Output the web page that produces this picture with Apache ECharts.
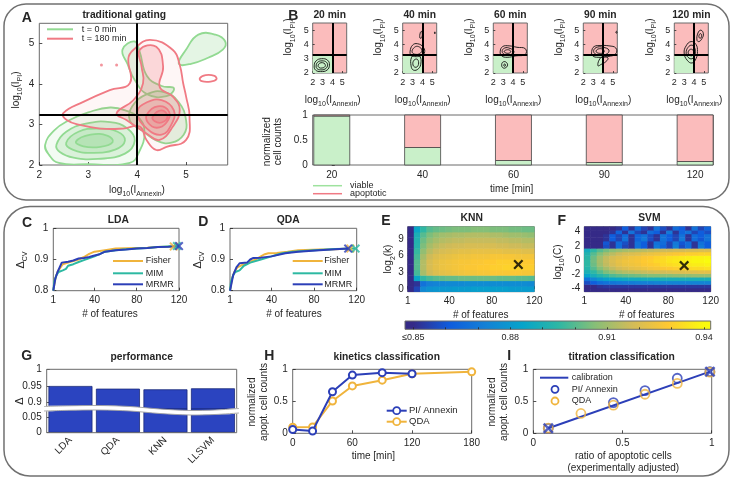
<!DOCTYPE html>
<html>
<head>
<meta charset="UTF-8">
<title>apoptosis classification</title>
<script src="https://cdn.jsdelivr.net/npm/echarts@6/dist/echarts.min.js"></script>
</head>
<body style="margin:0;background:#fff;">
<div id="chart" style="width:733px;height:487px;"></div>
<script>
// ---------- data ----------
var gateX = 4, gateY = 3.25;

// A: density contours, points are [log10 Annexin, log10 PI]
var greenContours = [
    [[2.12,2.5],[2.3,2.85],[2.6,3.1],[3.0,3.3],[3.45,3.42],[3.8,3.33],[4.05,3.15],[4.15,2.8],[4.05,2.35],[3.85,2.05],[3.0,2.02],[2.4,2.05],[2.2,2.25]],
    [[2.35,2.5],[2.55,2.82],[2.95,3.02],[3.45,3.06],[3.8,2.9],[3.95,2.6],[3.75,2.28],[3.2,2.15],[2.7,2.18],[2.42,2.32]],
    [[2.55,2.55],[2.8,2.82],[3.2,2.9],[3.6,2.82],[3.75,2.6],[3.55,2.38],[3.05,2.3],[2.68,2.38]],
    [[2.75,2.58],[3.05,2.75],[3.4,2.72],[3.5,2.57],[3.25,2.45],[2.9,2.46]],
    [[3.9,3.45],[4.2,3.75],[4.55,3.8],[4.85,3.55],[5.0,3.1],[4.95,2.75],[4.7,2.55],[4.4,2.6],[4.1,2.85],[3.85,3.1]],
    [[3.7,4.85],[3.95,5.05],[4.05,4.8],[4.2,4.2],[4.5,3.95],[4.75,3.9],[4.6,3.7],[4.2,3.75],[3.95,4.1],[3.8,4.5]],
    [[4.85,4.5],[5.0,4.85],[5.25,5.22],[5.6,5.22],[5.8,5.05],[5.75,4.85],[5.45,4.65],[5.1,4.5]]
];
var redContours = [
    [[2.49,3.28],[2.56,3.11],[2.83,2.99],[3.24,2.9],[3.71,2.9],[4.05,2.95],[4.19,2.62],[4.39,2.37],[4.6,2.45],[5.0,2.62],[5.07,3.19],[5.0,3.69],[4.94,4.02],[4.87,4.47],[4.73,4.84],[4.26,5.09],[3.92,4.84],[3.82,4.63],[3.85,4.02],[3.44,3.85],[2.9,3.56]],
    [[4.05,4.84],[4.39,4.92],[4.53,4.43],[4.46,3.93],[4.73,3.69],[4.87,3.36],[4.73,2.95],[4.46,2.62],[4.19,2.78],[3.78,3.11],[3.58,3.28],[3.92,3.6],[4.12,4.02],[4.09,4.43]],
    [[4.0,3.3],[4.2,3.55],[4.5,3.6],[4.75,3.35],[4.7,3.0],[4.5,2.75],[4.2,2.9]],
    [[4.2,3.25],[4.42,3.45],[4.65,3.32],[4.6,3.05],[4.4,2.92],[4.22,3.05]],
    [[4.32,3.2],[4.5,3.35],[4.62,3.2],[4.5,3.05],[4.36,3.08]]
];
var redRing = [[5.28,4.14],[5.4,4.22],[5.58,4.2],[5.62,4.12],[5.5,4.06],[5.32,4.07]];
var redDots = [[3.27,4.47],[3.58,4.47]];

// B: contours per time point
var bTimes = ['20 min', '40 min', '60 min', '90 min', '120 min'];
var bContours = [
    [
        [[2.15,2.5],[2.35,2.85],[2.9,3.0],[3.5,2.9],[3.7,2.55],[3.45,2.2],[2.8,2.1],[2.3,2.2]],
        [[2.35,2.5],[2.5,2.75],[2.95,2.85],[3.4,2.75],[3.5,2.5],[3.25,2.28],[2.8,2.22],[2.45,2.3]],
        [[2.55,2.52],[2.7,2.68],[3.0,2.72],[3.25,2.62],[3.25,2.45],[2.95,2.35],[2.65,2.38]]
    ],
    [
        [[2.75,3.5],[3.0,3.95],[3.5,4.05],[4.1,3.8],[4.2,3.4],[3.8,3.2],[3.2,3.15],[2.85,3.25]],
        [[2.95,3.5],[3.2,3.8],[3.6,3.85],[3.95,3.6],[3.7,3.35],[3.2,3.32]],
        [[2.85,2.5],[2.9,3.1],[3.3,3.3],[3.75,3.15],[3.85,2.7],[3.6,2.3],[3.1,2.2]],
        [[3.05,2.55],[3.15,2.9],[3.5,2.95],[3.6,2.6],[3.35,2.4]],
        [[3.75,4.45],[3.8,4.85],[3.95,4.9],[3.95,4.5]],
        [[5.22,4.8],[5.26,4.88],[5.3,4.8],[5.26,4.74]]
    ],
    [
        [[2.7,3.5],[2.95,3.85],[3.6,3.9],[4.4,3.8],[5.25,3.7],[5.25,3.3],[4.3,3.2],[3.4,3.1],[2.85,3.2]],
        [[2.9,3.5],[3.15,3.75],[3.7,3.72],[4.1,3.5],[3.8,3.3],[3.2,3.28]],
        [[3.1,3.5],[3.35,3.62],[3.7,3.58],[3.75,3.45],[3.4,3.38]],
        [[2.85,2.55],[2.95,2.75],[3.25,2.78],[3.45,2.55],[3.2,2.35],[2.95,2.38]],
        [[3.05,2.55],[3.15,2.63],[3.25,2.55],[3.15,2.47]]
    ],
    [
        [[2.85,3.5],[3.1,3.85],[3.8,3.92],[4.6,3.9],[5.3,3.75],[5.3,3.35],[4.5,3.15],[3.5,3.1],[2.95,3.2]],
        [[3.05,3.5],[3.3,3.78],[4.0,3.8],[4.6,3.6],[4.3,3.3],[3.4,3.28]],
        [[3.3,3.5],[3.5,3.68],[4.0,3.65],[4.1,3.45],[3.6,3.38]],
        [[3.5,2.5],[3.6,2.9],[4.0,3.15],[4.5,3.05],[4.3,2.8],[3.8,2.6]],
        [[5.3,4.85],[5.36,4.92],[5.42,4.85],[5.36,4.78]]
    ],
    [
        [[3.0,3.4],[3.2,3.9],[3.7,4.2],[4.2,4.0],[4.35,3.5],[4.2,3.0],[3.8,2.7],[3.3,2.9]],
        [[3.2,3.4],[3.4,3.8],[3.8,3.95],[4.1,3.7],[4.1,3.3],[3.8,3.0],[3.4,3.1]],
        [[3.4,3.4],[3.6,3.65],[3.9,3.6],[3.95,3.35],[3.7,3.2]],
        [[4.3,4.3],[4.4,4.8],[4.7,5.0],[4.95,4.75],[4.8,4.4],[4.5,4.2]],
        [[4.5,4.5],[4.6,4.75],[4.75,4.7],[4.7,4.45]]
    ]
];
var countTimes = ['20', '40', '60', '90', '120'];
var viable = [0.98, 0.35, 0.09, 0.05, 0.07];
var apoptotic = [0.02, 0.65, 0.91, 0.95, 0.93];

// C, D: cross-validated accuracy vs number of features
var ldaFisherX = [1,3,5,8,10,15,20,25,30,35,40,50,60,70,80,90,100,115];
var ldaFisherY = [0.80,0.84,0.86,0.875,0.885,0.89,0.895,0.9,0.908,0.918,0.925,0.93,0.935,0.936,0.937,0.938,0.94,0.942];
var ldaMimX = [1,2,4,6,10,13,15,20,25,30,40,50,60,70,80,90,100,118];
var ldaMimY = [0.80,0.83,0.85,0.86,0.865,0.87,0.88,0.885,0.892,0.898,0.91,0.925,0.93,0.933,0.935,0.937,0.94,0.943];
var ldaMrmrX = [1,3,5,7,9,15,20,25,30,35,40,45,50,60,70,80,90,100,110,120];
var ldaMrmrY = [0.80,0.84,0.86,0.875,0.89,0.893,0.897,0.903,0.905,0.908,0.913,0.917,0.925,0.93,0.932,0.935,0.937,0.94,0.941,0.943];
var qdaFisherX = [1,3,5,8,12,15,20,25,30,33,37,45,55,65,85,100,114];
var qdaFisherY = [0.80,0.84,0.86,0.875,0.882,0.885,0.893,0.9,0.91,0.916,0.92,0.921,0.925,0.93,0.932,0.933,0.935];
var qdaMimX = [1,2,4,6,10,14,20,30,40,45,50,60,80,100,119];
var qdaMimY = [0.80,0.83,0.85,0.86,0.865,0.88,0.89,0.9,0.91,0.915,0.92,0.925,0.93,0.934,0.935];
var qdaMrmrX = [1,4,7,10,17,20,23,30,40,53,65,85,100,112];
var qdaMrmrY = [0.80,0.85,0.875,0.888,0.89,0.9,0.905,0.906,0.91,0.92,0.925,0.93,0.933,0.935];
var selectors = ['Fisher', 'MIM', 'MRMR'];

// E: KNN grid, rows log2(k) = 0..11 (bottom to top), 20 feature columns
var knnRows = [
    [0.85,0.856,0.875,0.878,0.879,0.88,0.88,0.881,0.881,0.881,0.882,0.882,0.882,0.882,0.882,0.882,0.881,0.881,0.881,0.881],
    [0.85,0.852,0.868,0.872,0.873,0.874,0.875,0.875,0.875,0.876,0.876,0.876,0.876,0.876,0.876,0.876,0.876,0.876,0.876,0.875],
    [0.85,0.885,0.895,0.898,0.9,0.901,0.902,0.902,0.903,0.903,0.903,0.903,0.903,0.903,0.902,0.902,0.902,0.901,0.901,0.9],
    [0.85,0.898,0.911,0.917,0.92,0.922,0.923,0.924,0.925,0.926,0.926,0.927,0.927,0.928,0.928,0.928,0.928,0.928,0.927,0.927],
    [0.85,0.9,0.913,0.919,0.922,0.924,0.925,0.926,0.927,0.928,0.928,0.929,0.929,0.93,0.93,0.931,0.931,0.931,0.93,0.93],
    [0.85,0.9,0.913,0.919,0.922,0.924,0.925,0.926,0.927,0.927,0.928,0.928,0.929,0.929,0.93,0.93,0.93,0.93,0.929,0.929],
    [0.85,0.898,0.911,0.917,0.92,0.922,0.923,0.924,0.925,0.925,0.926,0.926,0.926,0.927,0.927,0.927,0.927,0.926,0.926,0.926],
    [0.85,0.896,0.908,0.914,0.917,0.919,0.92,0.921,0.922,0.922,0.923,0.923,0.923,0.923,0.923,0.922,0.922,0.922,0.921,0.921],
    [0.85,0.893,0.905,0.911,0.914,0.916,0.917,0.918,0.918,0.919,0.919,0.919,0.919,0.919,0.918,0.918,0.917,0.917,0.916,0.916],
    [0.85,0.892,0.903,0.908,0.911,0.913,0.914,0.915,0.915,0.916,0.916,0.916,0.916,0.916,0.915,0.915,0.914,0.914,0.913,0.913],
    [0.85,0.89,0.9,0.905,0.908,0.91,0.911,0.912,0.912,0.913,0.913,0.913,0.913,0.912,0.912,0.911,0.91,0.91,0.909,0.908],
    [0.85,0.885,0.895,0.9,0.902,0.903,0.904,0.905,0.905,0.905,0.906,0.906,0.906,0.905,0.905,0.905,0.904,0.904,0.903,0.903]
];
var knnBest = [[105, 4.4]];

// F: SVM grid, rows log10(C) from -4.5 upwards in 0.5 steps (bottom to top)
var svmRows = [
    [0.85,0.85,0.85,0.85,0.85,0.85,0.85,0.85,0.85,0.85,0.85,0.85,0.85,0.85,0.85,0.85,0.85,0.85,0.85,0.85],
    [0.85,0.85,0.852,0.853,0.853,0.853,0.853,0.853,0.853,0.853,0.853,0.853,0.853,0.853,0.853,0.853,0.853,0.853,0.853,0.853],
    [0.858,0.862,0.866,0.868,0.869,0.87,0.871,0.871,0.872,0.872,0.872,0.873,0.873,0.873,0.873,0.873,0.873,0.873,0.873,0.873],
    [0.868,0.874,0.879,0.882,0.884,0.885,0.886,0.887,0.887,0.888,0.888,0.888,0.889,0.889,0.889,0.889,0.889,0.889,0.889,0.889],
    [0.884,0.889,0.893,0.896,0.899,0.901,0.902,0.903,0.904,0.905,0.906,0.906,0.907,0.907,0.908,0.908,0.908,0.909,0.909,0.909],
    [0.89,0.895,0.9,0.905,0.908,0.911,0.913,0.914,0.915,0.916,0.917,0.918,0.918,0.919,0.92,0.92,0.921,0.921,0.922,0.922],
    [0.893,0.9,0.906,0.911,0.915,0.918,0.92,0.922,0.923,0.924,0.926,0.927,0.928,0.929,0.93,0.931,0.932,0.933,0.933,0.934],
    [0.895,0.903,0.91,0.915,0.919,0.922,0.924,0.925,0.926,0.928,0.929,0.93,0.932,0.933,0.934,0.935,0.936,0.937,0.937,0.938],
    [0.895,0.904,0.911,0.916,0.92,0.923,0.925,0.926,0.927,0.929,0.93,0.932,0.933,0.935,0.936,0.937,0.938,0.939,0.939,0.94],
    [0.894,0.903,0.91,0.915,0.919,0.921,0.923,0.925,0.926,0.928,0.929,0.931,0.932,0.934,0.935,0.936,0.937,0.938,0.938,0.939],
    [0.892,0.9,0.906,0.911,0.914,0.917,0.919,0.92,0.921,0.923,0.924,0.925,0.926,0.927,0.928,0.929,0.93,0.93,0.931,0.931],
    [0.888,0.895,0.9,0.904,0.907,0.909,0.911,0.912,0.913,0.914,0.915,0.916,0.917,0.917,0.918,0.918,0.919,0.919,0.92,0.92],
    [0.85,0.85,0.85,0.858,0.852,0.866,0.856,0.852,0.868,0.862,0.852,0.87,0.864,0.856,0.872,0.858,0.866,0.852,0.87,0.862],
    [0.85,0.85,0.85,0.86,0.852,0.866,0.858,0.852,0.868,0.862,0.852,0.868,0.866,0.856,0.87,0.86,0.866,0.852,0.868,0.862],
    [0.85,0.85,0.85,0.852,0.862,0.856,0.868,0.852,0.864,0.87,0.858,0.852,0.868,0.862,0.856,0.87,0.852,0.866,0.86,0.868],
    [0.85,0.85,0.85,0.852,0.862,0.856,0.866,0.852,0.864,0.868,0.858,0.852,0.868,0.862,0.856,0.868,0.852,0.866,0.862,0.868],
    [0.85,0.85,0.85,0.85,0.852,0.864,0.852,0.868,0.856,0.852,0.866,0.862,0.852,0.87,0.852,0.864,0.868,0.856,0.862,0.858],
    [0.85,0.85,0.85,0.85,0.85,0.852,0.862,0.852,0.866,0.856,0.852,0.868,0.858,0.852,0.866,0.862,0.852,0.868,0.856,0.864]
];
var svmBest = [[95, -0.8]];
var cbarTicks = [0.85, 0.86, 0.87, 0.88, 0.89, 0.9, 0.91, 0.92, 0.93, 0.94];
var cbarLabels = [0.85, 0.88, 0.91, 0.94];

// G: overall performance
var classifiers = ['LDA', 'QDA', 'KNN', 'LLSVM'];
var performance = [0.95, 0.942, 0.94, 0.943];

// H: kinetics
var kinTimes = [0, 20, 40, 60, 90, 120, 180];
var kinPiAnnexin = [0.06, 0.035, 0.65, 0.91, 0.947, 0.93];
var kinQda = [0.094, 0.1, 0.505, 0.74, 0.83, 0.93, 0.96];

// I: titration
var calibX = [0.084, 0.99];
var calibY = [0.078, 0.963];
var titrPiX = [0.084, 0.449, 0.626, 0.807, 0.99];
var titrPiY = [0.078, 0.48, 0.666, 0.86, 0.963];
var titrQdaX = [0.084, 0.267, 0.449, 0.626, 0.807, 0.99];
var titrQdaY = [0.08, 0.31, 0.44, 0.61, 0.78, 0.955];

// ---------- styling ----------
var FONT = '"Liberation Sans", Arial, sans-serif';
var INK = '#262626';
var FRAME = '#6a6a6a';
var BLUE = '#2c3fb8', ORANGE = '#f0b43c', TEAL = '#2db9a2';
var PINK = '#fbbcbc', LGREEN = '#c9f0c9';
var parula = ['#352a87', '#0f5cdd', '#1481d6', '#06a4ca', '#2eb7a4', '#87bf77', '#d1bb59', '#fec832', '#f9fb0e'];
var XSYM = 'path://M0,1.6 L1.6,0 L5,3.4 L8.4,0 L10,1.6 L6.6,5 L10,8.4 L8.4,10 L5,6.6 L1.6,10 L0,8.4 L3.4,5 Z';
var SUB = {s: {fontSize: 7, fontFamily: FONT, fill: INK, verticalAlign: 'bottom', lineHeight: 8}};

function zip(xs, ys) {
    return ys.map(function (y, i) { return [xs[i], y]; });
}

var cbMin = 0.8474, cbMax = 0.9421;
var cbStops = [{offset: 0, color: parula[0]}];
parula.forEach(function (c, i) {
    cbStops.push({offset: (0.85 + i / 8 * 0.09 - cbMin) / (cbMax - cbMin), color: c});
});
cbStops.push({offset: 1, color: parula[8]});

var gridBox = [
    [39.3, 23.3, 188.4, 141.7],
    [312.7, 23, 34, 50], [402.7, 23, 34, 50], [493.3, 23, 34, 50], [583.3, 23, 34, 50], [674.3, 23, 34, 50],
    [312.7, 115, 400.6, 50],
    [53.3, 228.3, 125.7, 62.4],
    [230, 228.3, 126.7, 62.4],
    [407.7, 226.7, 126.6, 65],
    [584.3, 226.7, 126.4, 65],
    [405, 321, 305.7, 8.3],
    [46.7, 369.3, 190, 39.7],
    [46.7, 409, 190, 23.7],
    [292.7, 369.3, 179, 64],
    [533.3, 369.3, 178.4, 64]
];
var grids = gridBox.map(function (b, i) {
    var g = {left: b[0], top: b[1], width: b[2], height: b[3], show: true,
        borderColor: FRAME, borderWidth: 1, backgroundColor: 'transparent'};
    if (i >= 1 && i <= 5) g.backgroundColor = PINK;
    if (i === 11) g.backgroundColor = new echarts.graphic.LinearGradient(0, 0, 1, 0, cbStops);
    if (i === 12 || i === 13) g.show = false;
    return g;
});

function vAxis(grid, min, max, values, o) {
    o = o || {};
    return {
        type: 'value', gridIndex: grid, min: min, max: max,
        splitLine: {show: false}, axisLine: {show: false},
        axisTick: {show: true, inside: true, length: o.tick || 3, customValues: o.ticks || values,
            lineStyle: {color: INK, width: 0.8}},
        axisLabel: {customValues: values, fontSize: o.size || 10, color: INK,
            fontFamily: FONT, margin: o.margin || 5, formatter: o.formatter}
    };
}
function hidden(type, grid, o) {
    var ax = {type: type, gridIndex: grid, show: false};
    for (var k in o) ax[k] = o[k];
    return ax;
}

var xAxes = [], yAxes = [];
xAxes[0] = vAxis(0, 2, 5.85, [2, 3, 4, 5]);
yAxes[0] = vAxis(0, 2, 5.5, [2, 3, 4, 5]);
for (var b = 1; b <= 5; b++) {
    xAxes[b] = vAxis(b, 2, 5.45, [2, 3, 4, 5], {size: 9, margin: 5, tick: 2});
    yAxes[b] = vAxis(b, 2, 5.5, [2, 3, 4, 5], {size: 9, margin: 4, tick: 2});
}
xAxes[6] = vAxis(6, -0.21, 4.2, [0, 1, 2, 3, 4], {formatter: function (v) { return countTimes[Math.round(v)]; }});
yAxes[6] = vAxis(6, 0, 1, [0, 0.5, 1]);
xAxes[7] = vAxis(7, 1, 120, [1, 40, 80, 120]);
yAxes[7] = vAxis(7, 0.8, 1, [0.8, 0.9, 1]);
xAxes[8] = vAxis(8, 1, 120, [1, 40, 80, 120]);
yAxes[8] = vAxis(8, 0.8, 1, [0.8, 0.9, 1]);
xAxes[9] = vAxis(9, 1, 120, [1, 40, 80, 120]);
yAxes[9] = vAxis(9, -0.5, 11.2, [0, 3, 6, 9], {margin: 4});
xAxes[10] = vAxis(10, 1, 120, [1, 40, 80, 120]);
yAxes[10] = vAxis(10, -4.5, 4.7, [-4, -2, 0, 2, 4], {margin: 4});
xAxes[11] = vAxis(11, cbMin, cbMax, cbarLabels, {ticks: cbarTicks, size: 9, margin: 4, tick: 2,
    formatter: function (v) { return Math.abs(v - 0.85) < 1e-6 ? '\u22640.85' : v.toFixed(2); }});
yAxes[11] = hidden('value', 11, {min: 0, max: 1});
xAxes[12] = hidden('category', 12, {data: classifiers});
yAxes[12] = vAxis(12, 0.881, 1, [0.9, 0.95, 1]);
xAxes[13] = {type: 'category', gridIndex: 13, data: classifiers,
    axisLine: {show: false}, axisTick: {show: false},
    axisLabel: {rotate: 45, fontSize: 10, color: INK, fontFamily: FONT, margin: 6}};
yAxes[13] = vAxis(13, 0, 0.077, [0, 0.05]);
xAxes[14] = vAxis(14, 0, 180, [0, 60, 120, 180]);
yAxes[14] = vAxis(14, 0, 1, [0, 0.5, 1]);
xAxes[15] = vAxis(15, 0, 1, [0, 0.5, 1]);
yAxes[15] = vAxis(15, 0, 1, [0, 0.5, 1]);
// category axes that carry the two heatmaps
xAxes[16] = hidden('category', 9, {position: 'top', data: knnRows[0].map(function (v, i) { return String(i); })});
yAxes[16] = hidden('category', 9, {position: 'right', data: knnRows.map(function (r, i) { return String(i); })});
xAxes[17] = hidden('category', 10, {position: 'top', data: svmRows[0].map(function (v, i) { return String(i); })});
yAxes[17] = hidden('category', 10, {position: 'right', data: svmRows.map(function (r, i) { return String(i); })});

// ---------- series ----------
var series = [];

function contour(grid, pts, fill, stroke, lw, z) {
    series.push({
        type: 'custom', xAxisIndex: grid, yAxisIndex: grid, z: z || 2, silent: true, clip: true,
        data: pts,
        renderItem: function (params, api) {
            if (params.dataIndex !== 0) return null;
            return {
                type: 'polygon',
                shape: {points: pts.map(function (p) { return api.coord(p); }), smooth: 0.45},
                style: {fill: fill, stroke: stroke, lineWidth: lw}
            };
        }
    });
}
function gates(grid, quadrant) {
    var s = {
        type: 'line', xAxisIndex: grid, yAxisIndex: grid, data: [], silent: true,
        markLine: {silent: true, symbol: ['none', 'none'], label: {show: false},
            lineStyle: {color: '#000', width: 2, type: 'solid'},
            data: [{xAxis: gateX}, {yAxis: gateY}]}
    };
    if (quadrant) {
        s.markArea = {silent: true, itemStyle: {color: LGREEN, opacity: 1},
            data: [[{xAxis: 2, yAxis: 2}, {xAxis: gateX, yAxis: gateY}]]};
    }
    series.push(s);
}

// A
greenContours.forEach(function (p, i) {
    contour(0, p, i === 0 ? 'rgba(140,215,140,0.10)' : 'rgba(120,205,120,0.2)', '#92da92', 1.8, 2);
});
redContours.forEach(function (p, i) {
    contour(0, p, i === 0 ? 'rgba(240,100,110,0.06)' : 'rgba(238,95,105,0.2)', '#f07a84', 1.8, 3);
});
contour(0, redRing, 'none', '#f07a84', 1.8, 3);
series.push({type: 'scatter', xAxisIndex: 0, yAxisIndex: 0, data: redDots, symbolSize: 3,
    itemStyle: {color: '#f07a84'}, silent: true});
gates(0, false);

// B small panels
bContours.forEach(function (set, i) {
    gates(i + 1, true);
    set.forEach(function (p) { contour(i + 1, p, 'none', '#111', 0.9, 3); });
});

// B stacked counts, drawn as rectangles between base and base + value
function stackedBars(grid, values, bases, color) {
    series.push({
        type: 'custom', xAxisIndex: grid, yAxisIndex: grid, silent: true, z: 2,
        data: values.map(function (v, i) { return [i, bases[i], bases[i] + v]; }),
        renderItem: function (params, api) {
            var lo = api.coord([api.value(0), api.value(1)]);
            var hi = api.coord([api.value(0), api.value(2)]);
            return {type: 'rect', shape: {x: lo[0] - 18, y: hi[1], width: 36, height: lo[1] - hi[1]},
                style: {fill: color, stroke: '#444', lineWidth: 0.8}};
        }
    });
}
stackedBars(6, viable, viable.map(function () { return 0; }), LGREEN);
stackedBars(6, apoptotic, viable, PINK);

// C, D
function curve(grid, xs, ys, color) {
    series.push({type: 'line', xAxisIndex: grid, yAxisIndex: grid, data: zip(xs, ys), symbol: 'none',
        lineStyle: {color: color, width: 2}, z: 3});
}
function endMark(grid, xs, ys, color) {
    series.push({type: 'scatter', xAxisIndex: grid, yAxisIndex: grid, symbol: XSYM, symbolSize: 9,
        data: [[xs[xs.length - 1], ys[ys.length - 1]]], itemStyle: {color: color}, z: 4});
}
curve(7, ldaFisherX, ldaFisherY, ORANGE);
curve(7, ldaMimX, ldaMimY, TEAL);
curve(7, ldaMrmrX, ldaMrmrY, BLUE);
endMark(7, ldaFisherX, ldaFisherY, ORANGE);
endMark(7, ldaMimX, ldaMimY, TEAL);
endMark(7, ldaMrmrX, ldaMrmrY, BLUE);
curve(8, qdaFisherX, qdaFisherY, ORANGE);
curve(8, qdaMimX, qdaMimY, TEAL);
curve(8, qdaMrmrX, qdaMrmrY, BLUE);
endMark(8, qdaFisherX, qdaFisherY, ORANGE);
endMark(8, qdaMimX, qdaMimY, TEAL);
endMark(8, qdaMrmrX, qdaMrmrY, BLUE);

// E, F heatmaps
function cells(rows) {
    var out = [];
    rows.forEach(function (row, r) { row.forEach(function (v, c) { out.push([c, r, v]); }); });
    return out;
}
var heatIdx = [];
heatIdx.push(series.length);
series.push({type: 'heatmap', xAxisIndex: 16, yAxisIndex: 16, data: cells(knnRows), silent: true,
    itemStyle: {borderWidth: 0}});
heatIdx.push(series.length);
series.push({type: 'heatmap', xAxisIndex: 17, yAxisIndex: 17, data: cells(svmRows), silent: true,
    itemStyle: {borderWidth: 0}});
series.push({type: 'scatter', xAxisIndex: 9, yAxisIndex: 9, data: knnBest, symbol: XSYM, symbolSize: 10,
    itemStyle: {color: '#000'}, z: 5});
series.push({type: 'scatter', xAxisIndex: 10, yAxisIndex: 10, data: svmBest, symbol: XSYM, symbolSize: 10,
    itemStyle: {color: '#000'}, z: 5});

// G broken bar chart
[12, 13].forEach(function (g) {
    series.push({type: 'bar', xAxisIndex: g, yAxisIndex: g, data: performance, barWidth: 44,
        itemStyle: {color: '#2b44c0', borderColor: '#1b2a7a', borderWidth: 0.8}});
});

// H
series.push({type: 'line', xAxisIndex: 14, yAxisIndex: 14, data: zip(kinTimes, kinPiAnnexin),
    symbol: 'emptyCircle', symbolSize: 7, lineStyle: {color: BLUE, width: 2},
    itemStyle: {color: BLUE, borderWidth: 1.8}, z: 4});
series.push({type: 'line', xAxisIndex: 14, yAxisIndex: 14, data: zip(kinTimes, kinQda),
    symbol: 'emptyCircle', symbolSize: 7, lineStyle: {color: ORANGE, width: 2},
    itemStyle: {color: ORANGE, borderWidth: 1.8}, z: 3});

// I
series.push({type: 'line', xAxisIndex: 15, yAxisIndex: 15, data: zip(calibX, calibY), symbol: 'none',
    lineStyle: {color: BLUE, width: 2}, z: 2});
series.push({type: 'scatter', xAxisIndex: 15, yAxisIndex: 15, data: zip(titrPiX, titrPiY), symbol: 'circle',
    symbolSize: 9, itemStyle: {color: 'rgba(0,0,0,0)', borderColor: BLUE, borderWidth: 1.8}, z: 3});
series.push({type: 'scatter', xAxisIndex: 15, yAxisIndex: 15, data: zip(titrQdaX, titrQdaY), symbol: 'circle',
    symbolSize: 9, itemStyle: {color: 'rgba(0,0,0,0)', borderColor: ORANGE, borderWidth: 1.8}, z: 4});
series.push({type: 'scatter', xAxisIndex: 15, yAxisIndex: 15, data: zip(calibX, calibY), symbol: XSYM,
    symbolSize: 11, itemStyle: {color: BLUE}, z: 5});

// ---------- texts and decorations ----------
function txt(x, y, s, o) {
    o = o || {};
    return {type: 'text', x: x, y: y, rotation: o.rot || 0, z: 50, silent: true,
        style: {text: s, fontSize: o.size || 10, fontWeight: o.bold ? 'bold' : 'normal', fontFamily: FONT,
            fill: INK, align: o.align || 'center', verticalAlign: 'middle', lineHeight: o.lh, rich: o.rich}};
}
function line(x1, y1, x2, y2, color, w) {
    return {type: 'line', z: 50, silent: true, shape: {x1: x1, y1: y1, x2: x2, y2: y2},
        style: {stroke: color, lineWidth: w || 2}};
}
function ring(cx, cy, color) {
    return {type: 'circle', z: 51, silent: true, shape: {cx: cx, cy: cy, r: 3.5},
        style: {fill: '#fff', stroke: color, lineWidth: 1.8}};
}
var V = Math.PI / 2;
var annexName = 'log{s|10}(I{s|Annexin})';
var piName = 'log{s|10}(I{s|PI})';

var graphics = [
    {type: 'rect', z: 0, silent: true, shape: {x: 4, y: 4, width: 725, height: 196, r: 22},
        style: {fill: 'none', stroke: '#707070', lineWidth: 1.5}},
    {type: 'rect', z: 0, silent: true, shape: {x: 4, y: 206.5, width: 725, height: 269.5, r: 26},
        style: {fill: 'none', stroke: '#707070', lineWidth: 1.5}},
    // panel letters
    txt(26.7, 18, 'A', {size: 14, bold: true}),
    txt(293.3, 16, 'B', {size: 14, bold: true}),
    txt(27, 223, 'C', {size: 14, bold: true}),
    txt(203.3, 222, 'D', {size: 14, bold: true}),
    txt(386, 221, 'E', {size: 14, bold: true}),
    txt(561.7, 221, 'F', {size: 14, bold: true}),
    txt(26.7, 356, 'G', {size: 14, bold: true}),
    txt(269.3, 356, 'H', {size: 14, bold: true}),
    txt(509.3, 356, 'I', {size: 14, bold: true}),
    // titles
    txt(124.2, 15, 'traditional gating', {bold: true, size: 10.3}),
    txt(118.3, 220, 'LDA', {bold: true, size: 10.3}),
    txt(288.3, 220, 'QDA', {bold: true, size: 10.3}),
    txt(471.7, 218.5, 'KNN', {bold: true, size: 10.3}),
    txt(649.3, 218.5, 'SVM', {bold: true, size: 10.3}),
    txt(141.7, 357.3, 'performance', {bold: true, size: 10.3}),
    txt(386.7, 357.3, 'kinetics classification', {bold: true, size: 10.3}),
    txt(621.7, 357.3, 'titration classification', {bold: true, size: 10.3}),
    // A axis names and legend
    txt(137, 190, annexName, {rich: SUB, lh: 16}),
    txt(16, 90, piName, {rich: SUB, lh: 16, rot: V}),
    line(47, 29.3, 73, 29.3, '#92da92'),
    line(47, 38.7, 73, 38.7, '#f07a84'),
    txt(81.7, 29.3, 't = 0 min', {align: 'left', size: 9}),
    txt(81.7, 38.7, 't = 180 min', {align: 'left', size: 9}),
    // B bar chart
    txt(272.5, 141.7, 'normalized\ncell counts', {rot: V, lh: 11}),
    txt(511.7, 189.3, 'time [min]'),
    line(313, 185.7, 342, 185.7, '#9ee29e', 1.5),
    line(313, 193.7, 342, 193.7, '#f07a84', 1.5),
    txt(350, 185.7, 'viable', {align: 'left', size: 9}),
    txt(350, 193.7, 'apoptotic', {align: 'left', size: 9}),
    // C, D
    txt(21, 260, '\u0394{s|CV}', {rot: V, rich: SUB, lh: 16, size: 11}),
    txt(110, 314.3, '# of features'),
    txt(198, 260, '\u0394{s|CV}', {rot: V, rich: SUB, lh: 16, size: 11}),
    txt(294, 314.3, '# of features'),
    // E, F
    txt(388.5, 259, 'log{s|2}(k)', {rot: V, rich: SUB, lh: 16}),
    txt(480.7, 315, '# of features'),
    txt(558, 262, 'log{s|10}(C)', {rot: V, rich: SUB, lh: 16}),
    txt(646.7, 315, '# of features'),
    // G
    txt(20, 401, '\u0394', {rot: V, size: 11}),
    {type: 'rect', z: 40, silent: true, shape: {x: 46.7, y: 369.3, width: 190, height: 63.4},
        style: {fill: 'none', stroke: FRAME, lineWidth: 1}},
    {type: 'polygon', z: 60, silent: true,
        shape: {smooth: 0.3, points: [[40, 406.5], [70, 405.8], [100, 405.5], [130, 406.5], [160, 409], [190, 410.5], [215, 410], [242, 408.5],
            [242, 413], [215, 414.5], [190, 415], [160, 413.5], [130, 411], [100, 410], [70, 410.3], [40, 411]]},
        style: {fill: '#fff', stroke: 'none'}},
    {type: 'polyline', z: 61, silent: true,
        shape: {smooth: 0.3, points: [[44, 406.5], [70, 405.8], [100, 405.5], [130, 406.5], [160, 409], [190, 410.5], [215, 410], [239, 408.5]]},
        style: {stroke: '#a0a0a0', lineWidth: 0.9, fill: 'none'}},
    {type: 'polyline', z: 61, silent: true,
        shape: {smooth: 0.3, points: [[44, 411], [70, 410.3], [100, 410], [130, 411], [160, 413.5], [190, 415], [215, 414.5], [239, 413]]},
        style: {stroke: '#a0a0a0', lineWidth: 0.9, fill: 'none'}},
    // H
    txt(258.3, 402, 'normalized\napopt. cell counts', {rot: V, lh: 12}),
    txt(373.3, 456.7, 'time [min]'),
    line(386.7, 410.7, 406.7, 410.7, BLUE),
    ring(396.7, 410.7, BLUE),
    line(386.7, 421.7, 406.7, 421.7, ORANGE),
    ring(396.7, 421.7, ORANGE),
    txt(409, 410.7, 'PI/ Annexin', {align: 'left', size: 9.5}),
    txt(409, 421.7, 'QDA', {align: 'left', size: 9.5}),
    // I
    txt(498.3, 402, 'normalized\napopt. cell counts', {rot: V, lh: 12}),
    txt(623.3, 462, 'ratio of apoptotic cells\n(experimentally adjusted)', {lh: 11.5}),
    line(540, 377.7, 568.3, 377.7, BLUE),
    ring(555, 389.3, BLUE),
    ring(555, 401, ORANGE),
    txt(571.7, 377.7, 'calibration', {align: 'left', size: 9}),
    txt(571.7, 389.3, 'PI/ Annexin', {align: 'left', size: 9}),
    txt(571.7, 401, 'QDA', {align: 'left', size: 9})
];

// legends of C and D
var selColors = [ORANGE, TEAL, BLUE];
var legendRows = [261, 273.3, 284.3];
[[113, 145.7], [292.7, 324.3]].forEach(function (pos) {
    selectors.forEach(function (name, i) {
        graphics.push(line(pos[0], legendRows[i], pos[0] + 30, legendRows[i], selColors[i]));
        graphics.push(txt(pos[1], legendRows[i], name, {align: 'left', size: 9}));
    });
});

// B small panel titles and axis names
bTimes.forEach(function (t, i) {
    var b = gridBox[i + 1];
    var cx = b[0] + b[2] / 2;
    graphics.push(txt(cx, 15, t, {bold: true, size: 10.3}));
    graphics.push(txt(cx + 3, 100, annexName, {rich: SUB, lh: 16}));
    graphics.push(txt(b[0] - 24.5, 37, piName, {rich: SUB, lh: 16, rot: V}));
});

var chart = echarts.init(document.getElementById('chart'), null, {renderer: 'canvas'});
chart.setOption({
    animation: false,
    backgroundColor: '#fff',
    textStyle: {fontFamily: FONT},
    grid: grids,
    xAxis: xAxes,
    yAxis: yAxes,
    visualMap: [{type: 'continuous', show: false, seriesIndex: heatIdx, min: 0.85, max: 0.94,
        inRange: {color: parula}}],
    series: series,
    graphic: graphics
});
</script>
</body>
</html>
